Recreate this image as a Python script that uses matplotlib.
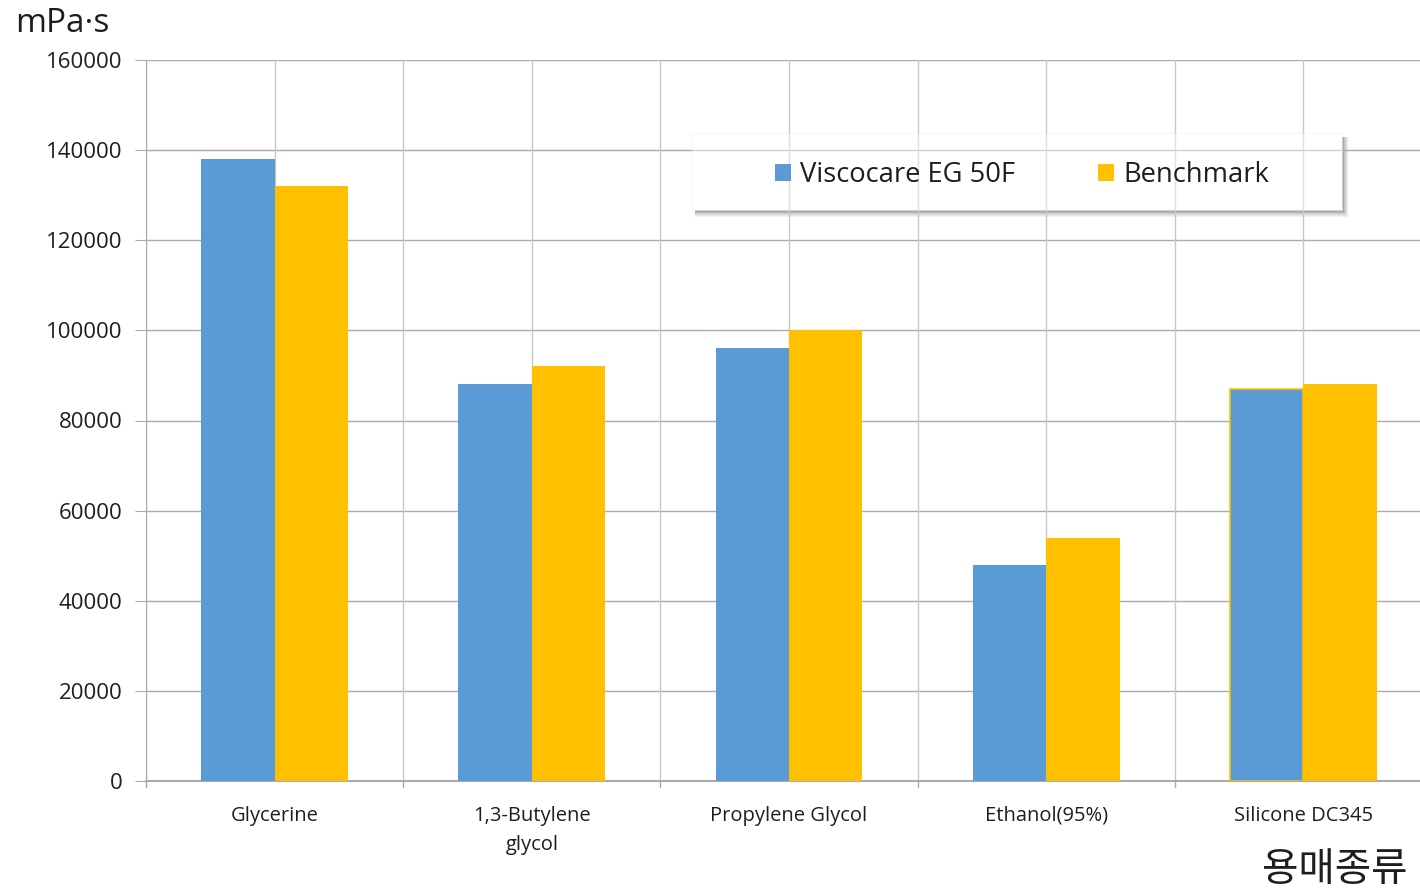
import matplotlib
matplotlib.use("Agg")
import matplotlib.pyplot as plt
from matplotlib.patches import Rectangle
import numpy as np

plt.rcParams['font.family'] = ['Open Sans', 'Noto Sans CJK KR', 'DejaVu Sans']

categories = ["Glycerine", "1,3-Butylene\nglycol", "Propylene Glycol", "Ethanol(95%)", "Silicone DC345"]
viscocare = [138000, 88000, 96000, 48000, 87000]
benchmark = [132000, 92000, 100000, 54000, 88000]
series_names = ["Viscocare EG 50F", "Benchmark"]
y_ticks = [0, 20000, 40000, 60000, 80000, 100000, 120000, 140000, 160000]

blue = "#5B9BD5"
gold = "#FFC000"
grid_c = "#ABABAB"
vgrid_c = "#C8C8C8"
txt_c = "#1E1E1E"

W, H = 1420, 892
fig = plt.figure(figsize=(W / 100, H / 100), dpi=100)
left, right, top, bottom = 146, 1432, 60, 781
ax = fig.add_axes([left / W, 1 - bottom / H, (right - left) / W, (bottom - top) / H])
ax.patch.set_visible(False)

x = np.arange(len(categories))
bw = 0.285
ax.bar(x - bw / 2, viscocare, bw, color=blue, zorder=3, label=series_names[0])
ax.bar(x + bw / 2, benchmark, bw, color=gold, zorder=3, label=series_names[1])
# outline around last blue bar
ax.bar(x[-1:] - bw / 2, viscocare[-1:], bw, facecolor="none", edgecolor=gold, linewidth=1.2, zorder=4)

ax.set_xlim(-0.5, len(categories) - 0.5)
ax.set_ylim(0, 160000)
ax.set_yticks(y_ticks)
ax.set_yticklabels([str(v) for v in y_ticks], fontsize=16, color=txt_c)

for yv in y_ticks[1:]:
    ax.axhline(yv, color=grid_c, lw=1, zorder=1)
for xv in np.arange(-0.5, len(categories), 0.5):
    ax.axvline(xv, color=vgrid_c, lw=1, zorder=1)

ax.set_xticks(x)
ax.set_xticklabels(categories, fontsize=14.5, color=txt_c, linespacing=1.6)
ax.tick_params(axis='x', length=0, pad=18)
for xb in np.arange(-0.5, len(categories), 1.0):
    ax.plot([xb, xb], [0, -1300], color=grid_c, lw=1, clip_on=False, zorder=2)
ax.tick_params(axis='y', length=8, color=grid_c, pad=9)

for s in ["top", "right"]:
    ax.spines[s].set_visible(False)
ax.spines["left"].set_color(grid_c)
ax.spines["bottom"].set_color(grid_c)
ax.spines["bottom"].set_linewidth(1.5)
ax.spines["left"].set_bounds(0, 160000)

# pixel -> axes fraction helpers
def ax_rect(x0, y0, x1, y1, **kw):
    ax0 = (x0 - left) / (right - left)
    ax1 = (x1 - left) / (right - left)
    ay0 = (bottom - y1) / (bottom - top)
    ay1 = (bottom - y0) / (bottom - top)
    return Rectangle((ax0, ay0), ax1 - ax0, ay1 - ay0, transform=ax.transAxes, clip_on=False, **kw)


# legend box with soft shadow (bottom-right)
bx0, by0, bx1, by1 = 692, 133, 1342, 210
for i, a in enumerate([0.03, 0.04, 0.05, 0.06, 0.07, 0.08, 0.10, 0.12]):
    d = 8 - i
    ax.add_patch(ax_rect(bx0 + 3, by0 + 4, bx1 + 1 + d * 0.7, by1 + 1 + d * 0.8,
                         facecolor="#3A3A3A", edgecolor="none", alpha=a, zorder=0.5))
ax.add_patch(ax_rect(bx0, by0, bx1, by1, facecolor="white", edgecolor="none", zorder=0.8))
ax.add_patch(ax_rect(bx0, by0, bx1, by1, facecolor="white", edgecolor="#EFEFEF",
                     alpha=0.45, lw=0.8, zorder=1.5))

leg = fig.legend(*ax.get_legend_handles_labels(), ncol=2, loc="center",
                 bbox_to_anchor=(1022 / W, 1 - 175 / H),
                 fontsize=19.7, frameon=False,
                 handlelength=0.6, handleheight=0.6, handletextpad=0.33, columnspacing=3.0,
                 borderpad=0, borderaxespad=0)
for t in leg.get_texts():
    t.set_color(txt_c)
leg.set_zorder(6)

fig.text(15 / W, 1 - 23 / H, "mPa·s", fontsize=24, va="center", ha="left", color=txt_c)
fig.text(1408 / W, 1 - 870 / H, "용매종류", fontsize=28.5, va="center", ha="right", color=txt_c,
         family=['Noto Sans CJK KR', 'DejaVu Sans'])

fig.savefig("out.png", dpi=100)
